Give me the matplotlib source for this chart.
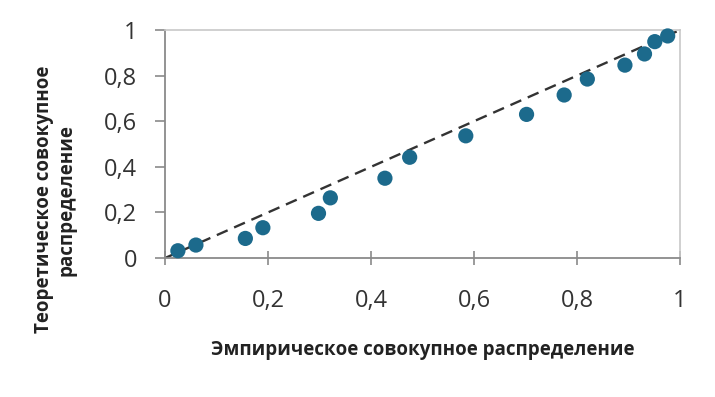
import matplotlib
matplotlib.use("Agg")
import matplotlib.pyplot as plt
from matplotlib.ticker import FuncFormatter

emp = [0.025, 0.06, 0.156, 0.19, 0.298, 0.321, 0.427, 0.475, 0.584,
       0.702, 0.775, 0.820, 0.893, 0.931, 0.951, 0.976]
theo = [0.032, 0.057, 0.086, 0.133, 0.196, 0.264, 0.350, 0.442, 0.536,
        0.630, 0.715, 0.785, 0.846, 0.895, 0.949, 0.974]
diag = [0, 1]
ticks = [0, 0.2, 0.4, 0.6, 0.8, 1]

plt.rcParams['font.family'] = ['Open Sans', 'DejaVu Sans']

fig = plt.figure(figsize=(7.15, 3.97), dpi=100)
ax = fig.add_axes([0.2308, 0.350, 0.7203, 0.5744])

ax.plot(diag, diag, color='#333333', linestyle=(0, (5, 3)), linewidth=1.7, zorder=2)
ax.scatter(emp, theo, s=120, color='#1c6a8c', edgecolors='none', zorder=3, clip_on=False)

ax.set_xlim(0, 1)
ax.set_ylim(0, 1)
ax.set_xticks(ticks)
ax.set_yticks(ticks)
fmt = FuncFormatter(lambda v, p: ('%g' % v).replace('.', ','))
ax.xaxis.set_major_formatter(fmt)
ax.yaxis.set_major_formatter(fmt)

for s in ['top', 'right']:
    ax.spines[s].set_color('#c8c8c8')
    ax.spines[s].set_linewidth(1.2)
for s in ['left', 'bottom']:
    ax.spines[s].set_color('#8a8a8a')
    ax.spines[s].set_linewidth(1.3)

ax.tick_params(axis='y', direction='out', length=7, width=1.2, color='#8a8a8a',
               labelsize=17, labelcolor='#333333', pad=13)
ax.tick_params(axis='x', direction='inout', length=10, width=1.2, color='#8a8a8a',
               labelsize=17, labelcolor='#333333', pad=17)

ax.set_xlabel('Эмпирическое совокупное распределение', fontsize=13.5,
              fontweight='bold', color='#222222', labelpad=20)
fig.text(0.077, 0.497, 'Теоретическое совокупное\nраспределение', rotation=90,
         fontsize=13.5, fontweight='bold', color='#222222', ha='center', va='center',
         multialignment='center', linespacing=1.2)

fig.savefig('out.png', dpi=100)
